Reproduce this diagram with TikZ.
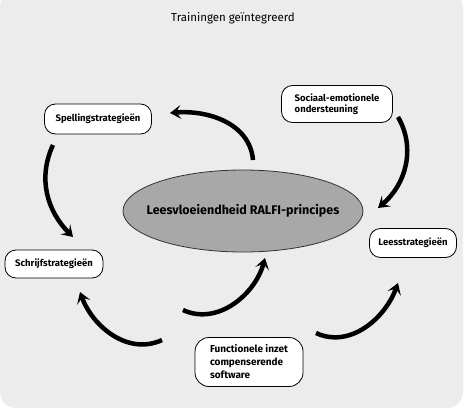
\documentclass[tikz,border=0pt]{standalone}
\usepackage{fontspec}
\setmainfont{Fira Sans}
\usetikzlibrary{arrows.meta,shapes.geometric}
\definecolor{bgc}{HTML}{ECECEC}
\definecolor{ellc}{HTML}{A8A8A8}
\tikzset{
  box/.style={draw=black, line width=0.8pt, fill=white, rounded corners=11pt, inner sep=0pt, font=\bfseries\fontsize{9.5}{11.5}\selectfont},
  flow/.style={line width=4.5pt, -{Stealth[length=11pt,width=14pt,inset=5pt]}},
}
\begin{document}
\begin{tikzpicture}[x=1pt,y=1pt]
\useasboundingbox (0,0) rectangle (470,416);
\fill[bgc, rounded corners=16pt] (0,8) rectangle (463,425);
\node (title) at (233,398) {\fontsize{11.5}{13}\selectfont Trainingen geïntegreerd};
\node[ellipse, draw=black!80, line width=0.8pt, fill=ellc, minimum width=240pt, minimum height=82pt, inner sep=0pt,
  label={[font=\bfseries\fontsize{12.5}{14}\selectfont]center:Leesvloeiendheid RALFI-principes}] (core) at (243,205) {};
\node[box, minimum width=107pt, minimum height=30pt] (spel) at (98,297) {Spellingstrategieën};
\node[box, minimum width=111pt, minimum height=37pt, align=left] (soc) at (337,312) {Sociaal-emotionele\\ondersteuning};
\node[box, minimum width=98pt, minimum height=28pt] (schr) at (54,152) {Schrijfstrategieën};
\node[box, minimum width=87pt, minimum height=29pt] (lees) at (413,173) {Leesstrategieën};
\node[box, minimum width=108pt, minimum height=49pt, align=left, rounded corners=14pt, font=\fontsize{10}{13}\selectfont\bfseries] (func) at (249,54) {Functionele inzet\\compenserende\\software};
% arrow end points
\coordinate (a1s) at (253,256); \coordinate (a1e) at (170,303);
\coordinate (a2s) at (53,271);  \coordinate (a2e) at (73,179);
\coordinate (a3s) at (398,299); \coordinate (a3e) at (378,208);
\coordinate (a4s) at (162,76);  \coordinate (a4e) at (80,124);
\coordinate (a5s) at (183,106); \coordinate (a5e) at (265,158);
\coordinate (a6s) at (316,83);  \coordinate (a6e) at (398,133);
\draw[flow] (a1s) to[out=95, in=5] (a1e);
\draw[flow] (a2s) to[out=-115, in=135] (a2e);
\draw[flow] (a3s) to[out=-60, in=40] (a3e);
\draw[flow] (a4s) to[out=-155, in=-70] (a4e);
\draw[flow] (a5s) to[out=-25, in=-105] (a5e);
\draw[flow] (a6s) to[out=-25, in=-110] (a6e);
\end{tikzpicture}
\end{document}
